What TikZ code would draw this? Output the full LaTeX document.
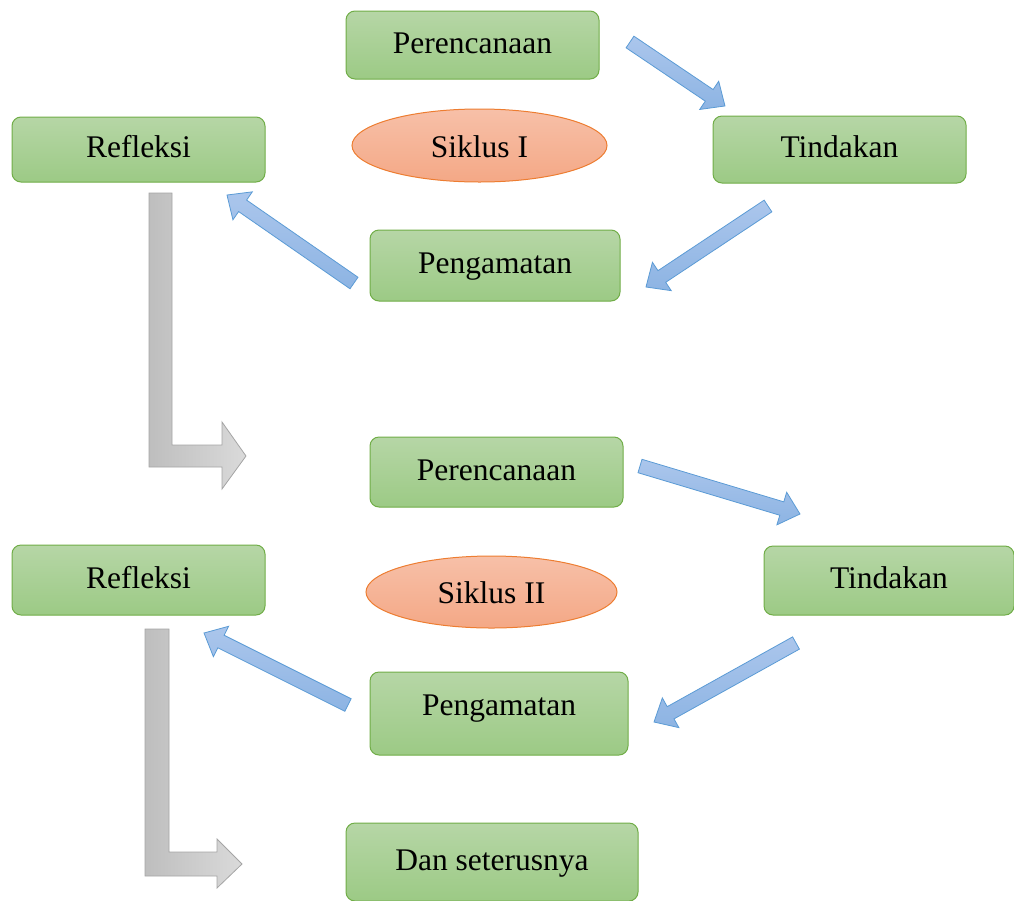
\documentclass[tikz,border=0pt]{standalone}
\usepackage{fontspec}
\setmainfont{Liberation Serif}
\usetikzlibrary{shapes.geometric}
\definecolor{greentop}{RGB}{182,214,166}
\definecolor{greenbot}{RGB}{156,202,133}
\definecolor{greenline}{RGB}{112,173,71}
\definecolor{orangetop}{RGB}{247,192,168}
\definecolor{orangebot}{RGB}{244,168,134}
\definecolor{orangeline}{RGB}{237,125,49}
\definecolor{bluetop}{RGB}{171,198,236}
\definecolor{bluebot}{RGB}{141,180,227}
\definecolor{blueline}{RGB}{91,155,213}
\definecolor{grayleft}{RGB}{190,190,190}
\definecolor{grayright}{RGB}{218,218,218}
\definecolor{grayline}{RGB}{165,165,165}
\tikzset{
  stagebox/.style={draw=greenline, line width=1pt, rounded corners=9pt,
    top color=greentop, bottom color=greenbot, inner sep=0pt,
    font=\fontsize{31.5}{36}\selectfont, text height=23pt, text depth=7pt},
  cyclebox/.style={ellipse, draw=orangeline, line width=1pt,
    top color=orangetop, bottom color=orangebot, inner sep=0pt,
    font=\fontsize{31.5}{36}\selectfont, text height=23pt, text depth=0pt},
  bluearrow/.style={draw=blueline, line width=0.8pt, top color=bluetop, bottom color=bluebot, line join=miter},
  grayarrow/.style={draw=grayline, line width=0.8pt, left color=grayleft, right color=grayright, line join=miter}
}
\newcommand\blockarrow[2]{%
  \pgfpointdiff{\pgfpointanchor{#1}{center}}{\pgfpointanchor{#2}{center}}%
  \pgfgetlastxy{\bax}{\bay}%
  \pgfmathsetmacro\barang{atan2(\bay,\bax)}%
  \pgfmathsetmacro\barlen{veclen(\bax,\bay)}%
  \draw[bluearrow, shift={(#1)}, rotate=\barang]
    (0,-7) -- (\barlen-19,-7) -- (\barlen-19,-17) -- (\barlen,0)
    -- (\barlen-19,17) -- (\barlen-19,7) -- (0,7) -- cycle;%
}
\begin{document}
\begin{tikzpicture}[x=1pt,y=-1pt]
\useasboundingbox (0,0) rectangle (1014,900);

% cycle I
\node[stagebox, minimum width=253pt, minimum height=68pt] (plan1) at (472.5,45) {Perencanaan};
\node[stagebox, minimum width=253pt, minimum height=67pt] (act1) at (839.5,149.5) {Tindakan};
\node[stagebox, minimum width=253pt, minimum height=65pt] (refl1) at (138.5,149.5) {Refleksi};
\node[cyclebox, minimum width=255pt, minimum height=73pt] (cyc1) at (479.5,145.5) {Siklus I};
\node[stagebox, minimum width=250pt, minimum height=71pt] (obs1) at (495,265.5) {Pengamatan};

% cycle II
\node[stagebox, minimum width=253pt, minimum height=70pt] (plan2) at (496.5,472) {Perencanaan};
\node[stagebox, minimum width=250pt, minimum height=69pt] (act2) at (889,580.5) {Tindakan};
\node[stagebox, minimum width=253pt, minimum height=70pt] (refl2) at (138.5,580) {Refleksi};
\node[cyclebox, minimum width=251pt, minimum height=72pt] (cyc2) at (491.5,592) {Siklus II};
\node[stagebox, minimum width=258pt, minimum height=83pt, text depth=19pt] (obs2) at (499,713.5) {Pengamatan};
\node[stagebox, minimum width=292pt, minimum height=78pt] (next) at (492,862) {Dan seterusnya};

% arrow end points
\coordinate (plan1out) at (630,42);
\coordinate (act1in) at (725,106);
\coordinate (act1out) at (768,206);
\coordinate (obs1in) at (646,287);
\coordinate (obs1out) at (354,283);
\coordinate (refl1in) at (227,195);
\coordinate (plan2out) at (640,466);
\coordinate (act2in) at (800,514);
\coordinate (act2out) at (796,643);
\coordinate (obs2in) at (654,722);
\coordinate (obs2out) at (348,705);
\coordinate (refl2in) at (204,633);

\blockarrow{plan1out}{act1in}
\blockarrow{act1out}{obs1in}
\blockarrow{obs1out}{refl1in}
\blockarrow{plan2out}{act2in}
\blockarrow{act2out}{obs2in}
\blockarrow{obs2out}{refl2in}

% gray bent arrows
\draw[grayarrow] (149,193) -- (172,193) -- (172,445) -- (222,445) -- (222,422)
  -- (246,456) -- (222,489) -- (222,467) -- (149,467) -- cycle;
\draw[grayarrow] (145,629) -- (169,629) -- (169,852) -- (217,852) -- (217,839)
  -- (242,864) -- (217,888) -- (217,876) -- (145,876) -- cycle;
\end{tikzpicture}
\end{document}
